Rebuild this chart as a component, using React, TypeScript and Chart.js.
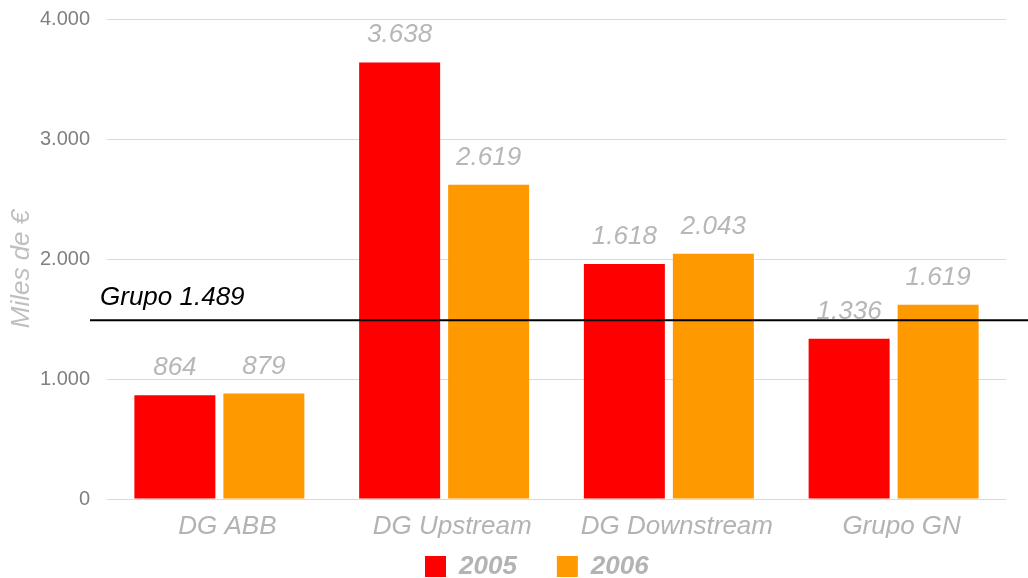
import React, { useEffect, useRef } from 'react';
import { Chart, registerables } from 'chart.js';

Chart.register(...registerables);

const categories = ['DG ABB', 'DG Upstream', 'DG Downstream', 'Grupo GN'];
const seriesNames = ['2005', '2006'];
const values2005 = [864, 3638, 1958, 1336];
const values2006 = [879, 2619, 2043, 1619];
const labels2005 = ['864', '3.638', '1.618', '1.336'];
const labels2006 = ['879', '2.619', '2.043', '1.619'];
const yTickValues = [0, 1000, 2000, 3000, 4000];
const yTickLabels = ['0', '1.000', '2.000', '3.000', '4.000'];
const groupAverage = 1489;
const groupAverageLabel = 'Grupo 1.489';
const yAxisTitle = 'Miles de €';

const FONT = "'Liberation Sans', Arial, sans-serif";
const COLOR_2005 = '#ff0000';
const COLOR_2006 = '#ff9900';

const referenceLinePlugin = {
  id: 'referenceLine',
  afterDatasetsDraw(chart: any) {
    const ctx = chart.ctx;
    const y = chart.scales.y.getPixelForValue(groupAverage);
    const left = chart.chartArea.left;
    ctx.save();
    ctx.strokeStyle = '#000000';
    ctx.lineWidth = 2;
    ctx.beginPath();
    ctx.moveTo(left - 17, y);
    ctx.lineTo(chart.width, y);
    ctx.stroke();
    ctx.font = `italic 26px ${FONT}`;
    ctx.fillStyle = '#000000';
    ctx.textAlign = 'left';
    ctx.textBaseline = 'alphabetic';
    ctx.fillText(groupAverageLabel, left - 7, y - 15);
    ctx.restore();
  },
};

const valueLabelPlugin = {
  id: 'valueLabels',
  afterDatasetsDraw(chart: any) {
    const ctx = chart.ctx;
    const labelSets = [labels2005, labels2006];
    ctx.save();
    ctx.font = `italic 26px ${FONT}`;
    ctx.fillStyle = '#b7b7b7';
    ctx.textAlign = 'center';
    ctx.textBaseline = 'alphabetic';
    chart.data.datasets.forEach((_ds: any, i: number) => {
      const meta = chart.getDatasetMeta(i);
      meta.data.forEach((bar: any, j: number) => {
        ctx.fillText(labelSets[i][j], bar.x, bar.y - 20);
      });
    });
    ctx.restore();
  },
};

const yTitlePlugin = {
  id: 'yTitle',
  afterDraw(chart: any) {
    const ctx = chart.ctx;
    const area = chart.chartArea;
    ctx.save();
    ctx.translate(22, (area.top + area.bottom) / 2 + 10);
    ctx.rotate(-Math.PI / 2);
    ctx.font = `italic 26px ${FONT}`;
    ctx.fillStyle = '#bfbfbf';
    ctx.textAlign = 'center';
    ctx.textBaseline = 'middle';
    ctx.fillText(yAxisTitle, 0, 0);
    ctx.restore();
  },
};

const legendPlacePlugin = {
  id: 'legendPlace',
  afterLayout(chart: any) {
    const lg = chart.legend;
    if (!lg) return;
    const w = lg.right - lg.left;
    lg.left = 385;
    lg.right = 385 + w;
    lg.top = chart.height - 64.5;
    lg.bottom = chart.height + 20;
    lg.height = lg.bottom - lg.top;
  },
};

export default function App() {
  const canvasRef = useRef<HTMLCanvasElement | null>(null);

  useEffect(() => {
    document.body.style.margin = '0';
    const canvas = canvasRef.current;
    if (!canvas) return;
    const chart = new Chart(canvas, {
      type: 'bar',
      data: {
        labels: categories,
        datasets: [
          {
            label: seriesNames[0],
            data: values2005,
            backgroundColor: COLOR_2005,
            borderWidth: 0,
            categoryPercentage: 0.792,
            barPercentage: 0.91,
          },
          {
            label: seriesNames[1],
            data: values2006,
            backgroundColor: COLOR_2006,
            borderWidth: 0,
            categoryPercentage: 0.792,
            barPercentage: 0.91,
          },
        ],
      },
      options: {
        animation: false,
        responsive: false,
        devicePixelRatio: 1,
        layout: { padding: { top: 19, right: 22, left: 0, bottom: 0 } },
        plugins: {
          tooltip: { enabled: false },
          legend: {
            position: 'bottom',
            align: 'start',
            maxHeight: 40,
            labels: {
              boxWidth: 21,
              boxHeight: 21,
              padding: 40,
              color: '#b3b3b3',
              font: { family: FONT, size: 26, style: 'italic', weight: 'bold' },
            },
          },
        },
        scales: {
          x: {
            grid: { display: false, drawTicks: false },
            border: { display: false },
            ticks: {
              color: '#b3b3b3',
              font: { family: FONT, size: 26, style: 'italic' },
              padding: 12,
              labelOffset: 8,
              maxRotation: 0,
              autoSkip: false,
            },
            afterFit: (scale: any) => {
              scale.height = 39;
            },
          },
          y: {
            min: 0,
            max: 4000,
            grid: { color: '#d9d9d9', lineWidth: 1, drawTicks: false },
            border: { display: false },
            ticks: {
              color: '#808080',
              font: { family: FONT, size: 20 },
              padding: 17,
              callback: (_v: any, index: number) => yTickLabels[index],
            },
            afterBuildTicks: (scale: any) => {
              scale.ticks = yTickValues.map((v) => ({ value: v }));
            },
            afterFit: (scale: any) => {
              scale.width = 107;
              scale.paddingTop = 0;
              scale.paddingBottom = 0;
            },
          },
        },
      },
      plugins: [referenceLinePlugin, valueLabelPlugin, yTitlePlugin, legendPlacePlugin],
    } as any);
    return () => {
      chart.destroy();
    };
  }, []);

  return (
    <div style={{ width: 1028, height: 578, background: '#ffffff' }}>
      <canvas ref={canvasRef} width={1028} height={578} style={{ display: 'block' }} />
    </div>
  );
}
